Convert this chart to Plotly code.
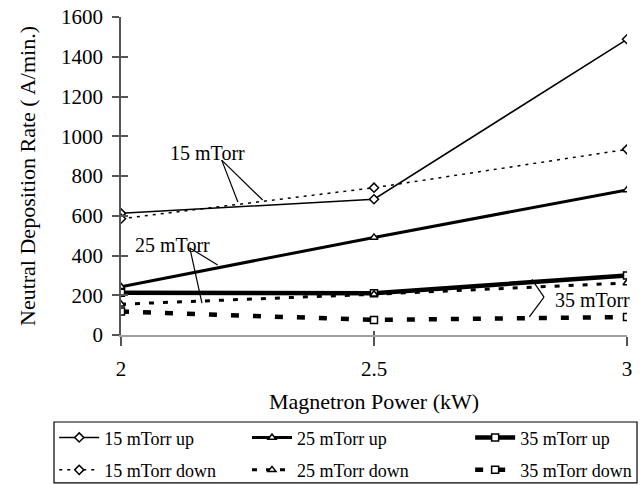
import plotly.graph_objects as go

power = [2, 2.5, 3]
series_names = ["15 mTorr up", "25 mTorr up", "35 mTorr up",
                "15 mTorr down", "25 mTorr down", "35 mTorr down"]
up_15 = [612, 683, 1488]
up_25 = [243, 491, 730]
up_35 = [213, 210, 300]
down_15 = [585, 741, 934]
down_25 = [155, 205, 262]
down_35 = [118, 76, 90]
y_ticks = [0, 200, 400, 600, 800, 1000, 1200, 1400, 1600]
x_ticks = [2, 2.5, 3]
x_tick_text = ["2", "2.5", "3"]

FONT = "'Liberation Serif', 'Times New Roman', serif"

styles = [
    dict(width=1.5, dash="solid", symbol="diamond", msize=7, legend="legend"),
    dict(width=3, dash="solid", symbol="triangle-up", msize=7, legend="legend2"),
    dict(width=4.5, dash="solid", symbol="square", msize=7, legend="legend3"),
    dict(width=1.5, dash="3px,5px", symbol="diamond", msize=7, legend="legend"),
    dict(width=3, dash="5px,9px", symbol="triangle-up", msize=7, legend="legend2"),
    dict(width=4.5, dash="8px,14px", symbol="square", msize=7, legend="legend3"),
]
values = [up_15, up_25, up_35, down_15, down_25, down_35]

fig = go.Figure()
for name, vals, st in zip(series_names, values, styles):
    fig.add_trace(go.Scatter(
        x=power, y=vals, name=name, mode="lines+markers",
        legend=st["legend"], legendgroup=name,
        line=dict(color="black", width=st["width"], dash=st["dash"]),
        marker=dict(symbol=st["symbol"], size=st["msize"], color="white",
                    line=dict(color="black", width=1.5)),
    ))

# invisible traces on overlay axes for crossing ticks
fig.add_trace(go.Scatter(x=[], y=[], yaxis="y2", showlegend=False, hoverinfo="skip"))
fig.add_trace(go.Scatter(x=[], y=[], xaxis="x2", showlegend=False, hoverinfo="skip"))

# annotation leader lines
leaders = [
    ((2.199, 880), (2.231, 669)),
    ((2.199, 880), (2.280, 679)),
    ((2.136, 438), (2.191, 352)),
    ((2.136, 438), (2.160, 160)),
    ((2.812, 280), (2.836, 191)),
    ((2.836, 191), (2.807, 91)),
]
for (x0, y0), (x1, y1) in leaders:
    fig.add_shape(type="line", xref="x", yref="y", x0=x0, y0=y0, x1=x1, y1=y1,
                  line=dict(color="black", width=1.2))

# legend frame
fig.add_shape(type="rect", xref="paper", yref="paper",
              x0=-0.1324, x1=1.0198, y0=-0.465, y1=-0.2736,
              line=dict(color="black", width=1.2), fillcolor="rgba(0,0,0,0)")

labels = [("15 mTorr", 2.171, 916), ("25 mTorr", 2.102, 453), ("35 mTorr", 2.932, 176)]
for txt, xx, yy in labels:
    fig.add_annotation(x=xx, y=yy, xref="x", yref="y", text=txt, showarrow=False,
                       font=dict(family=FONT, size=20, color="black"), bgcolor="rgba(0,0,0,0)")

legend_common = dict(
    orientation="v", yanchor="top", xanchor="left", y=-0.265,
    borderwidth=0, bgcolor="rgba(0,0,0,0)",
    font=dict(family=FONT, size=18, color="black"),
    itemwidth=40, tracegroupgap=6,
)

fig.update_layout(
    width=644, height=485,
    margin=dict(l=121, r=17, t=17, b=150, autoexpand=False),
    paper_bgcolor="white", plot_bgcolor="white",
    font=dict(family=FONT, color="black", size=20),
    showlegend=True,
    legend=dict(x=-0.132, **legend_common),
    legend2=dict(x=0.249, **legend_common),
    legend3=dict(x=0.690, **legend_common),
    xaxis=dict(
        range=[2, 3], tickvals=x_ticks, ticktext=x_tick_text,
        showgrid=False, zeroline=False, showline=True, linecolor="#a0a0a0", linewidth=1.5,
        ticks="outside", ticklen=9, tickcolor="#555", tickwidth=1.5,
        tickfont=dict(family=FONT, size=21, color="black"), ticklabelstandoff=5,
        title=dict(text="Magnetron Power (kW)", font=dict(family=FONT, size=22, color="black"), standoff=14),
        automargin=False,
    ),
    xaxis2=dict(
        overlaying="x", range=[2, 3], tickvals=x_ticks, showticklabels=False,
        ticks="inside", ticklen=4, tickcolor="#555", tickwidth=1.5,
        showgrid=False, zeroline=False, showline=False, anchor="y", side="bottom",
    ),
    yaxis=dict(
        range=[0, 1600], tickvals=y_ticks,
        showgrid=False, zeroline=False, showline=True, linecolor="#555", linewidth=1.5,
        ticks="outside", ticklen=7, tickcolor="#555", tickwidth=1.5,
        tickfont=dict(family=FONT, size=21, color="black"), ticklabelstandoff=5,
        title=dict(text="Neutral Deposition Rate ( A/min.)", font=dict(family=FONT, size=22, color="black"), standoff=19),
        automargin=False,
    ),
    yaxis2=dict(
        overlaying="y", range=[0, 1600], tickvals=y_ticks, showticklabels=False,
        ticks="inside", ticklen=7, tickcolor="#555", tickwidth=1.5,
        showgrid=False, zeroline=False, showline=False, anchor="x", side="left",
    ),
)

fig.write_html("out.html", config={"displayModeBar": False},
               post_script="document.body.style.margin='0';")
